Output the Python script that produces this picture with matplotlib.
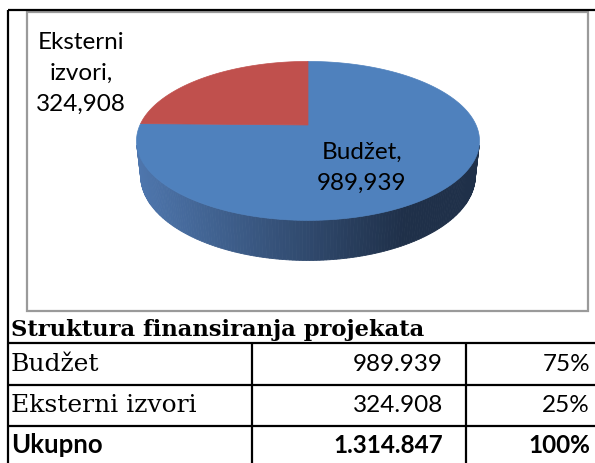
import numpy as np
import matplotlib.pyplot as plt
from matplotlib.patches import Polygon, Rectangle
from matplotlib.colors import to_rgb

# data
categories = ["Budžet", "Eksterni izvori"]
amounts = [989939, 324908]
slice_colors = ["#4f81bd", "#c0504d"]
title = "Struktura finansiranja projekata"
total_name = "Ukupno"

total = sum(amounts)
shares = [a / total for a in amounts]


def dotted(n):
    return f"{n:,}".replace(",", ".")


fig = plt.figure(figsize=(5.95, 4.64), dpi=100)
ax = fig.add_axes([0, 0, 1, 1])
ax.set_xlim(0, 595)
ax.set_ylim(464, 0)
ax.axis("off")

# --- 3D pie (simple perspective projection) ---
elev = np.radians(27)
dist = 5 * np.cos(elev)
thick = 0.236
cx, cy = 308, 126   # where the pie centre lands on the page
pie_width = 343


def project(phi, yw):
    rx = np.sin(phi)
    ry = yw - dist * np.sin(elev)
    rz = -np.cos(phi) - dist * np.cos(elev)
    depth = -np.sin(elev) * ry - np.cos(elev) * rz
    yc = np.cos(elev) * ry - np.sin(elev) * rz
    return rx / depth, yc / depth


ring = np.linspace(0, 2 * np.pi, 721)
sx, sy = project(ring, 0.0)
k = pie_width / (sx.max() - sx.min())


def to_px(sx, sy):
    return cx + k * sx, cy - k * sy


# side wall, only the part facing the camera
phi_a = np.arccos(-1 / (dist * np.cos(elev)))
side = np.linspace(phi_a, 2 * np.pi - phi_a, 160)
tx, ty = to_px(*project(side, 0.0))
bx, by = to_px(*project(side, -thick))
light = np.array(to_rgb("#4e76ad"))
dark = np.array(to_rgb("#1f3049"))
left_x, right_x = tx.min(), tx.max()
for i in range(len(side) - 1):
    quad = [(tx[i], ty[i]), (tx[i + 1], ty[i + 1]),
            (bx[i + 1], by[i + 1]), (bx[i], by[i])]
    t = ((tx[i] + tx[i + 1]) / 2 - left_x) / (right_x - left_x)
    t = np.clip(t / 0.78, 0, 1)
    c = light * (1 - t) + dark * t
    ax.add_patch(Polygon(quad, closed=True, facecolor=c, edgecolor=c, lw=0.6))

# top face slices, clockwise from 12 o'clock
start = 0.0
for share, col in zip(shares, slice_colors):
    arc = np.linspace(start, start + 2 * np.pi * share, 200)
    px, py = to_px(*project(arc, 0.0))
    pts = [(cx, cy)] + list(zip(px, py))
    ax.add_patch(Polygon(pts, closed=True, facecolor=col, edgecolor=col, lw=0.5))
    start += 2 * np.pi * share

lab_font = dict(family="Lato", fontsize=17.5, color="black", linespacing=1.58)
ax.text(362, 168, f"{categories[0]},\n{amounts[0]:,}", ha="center", va="center", **lab_font)
ax.text(81, 73, "Eksterni\nizvori,\n" + f"{amounts[1]:,}", ha="center", va="center", **lab_font)

# chart frame
ax.add_patch(Rectangle((27, 12.5), 561, 299.5, fill=False, edgecolor="#9a9a9a", lw=1.6))

# --- table ---
line_kw = dict(color="black", lw=1.6, solid_capstyle="butt")
ax.plot([8, 595], [10.5, 10.5], **line_kw)
ax.plot([8, 8], [10.5, 464], **line_kw)
for y in [344, 386, 427]:
    ax.plot([8, 595], [y, y], **line_kw)
for x in [252, 466]:
    ax.plot([x, x], [344, 464], **line_kw)

ax.text(11, 336, title, family="DejaVu Serif", fontweight="bold", fontsize=16.3,
        ha="left", va="baseline")

row_base = [371, 412]
for name, amt, share, yb in zip(categories, amounts, shares, row_base):
    ax.text(11, yb, name, family="DejaVu Serif", fontsize=18, ha="left", va="baseline")
    ax.text(443, yb, dotted(amt), family="Lato", fontsize=17.5, ha="right", va="baseline")
    ax.text(590, yb, f"{share:.0%}", family="Lato", fontsize=17.5, ha="right", va="baseline")

ax.text(11, 453, total_name, family="Lato", fontweight="bold", fontsize=18.5, ha="left", va="baseline")
ax.text(443, 453, dotted(total), family="Lato", fontweight="bold", fontsize=17.5, ha="right", va="baseline")
ax.text(590, 453, f"{sum(shares):.0%}", family="Lato", fontweight="bold", fontsize=17.5, ha="right", va="baseline")

fig.savefig("out.png", dpi=100)
